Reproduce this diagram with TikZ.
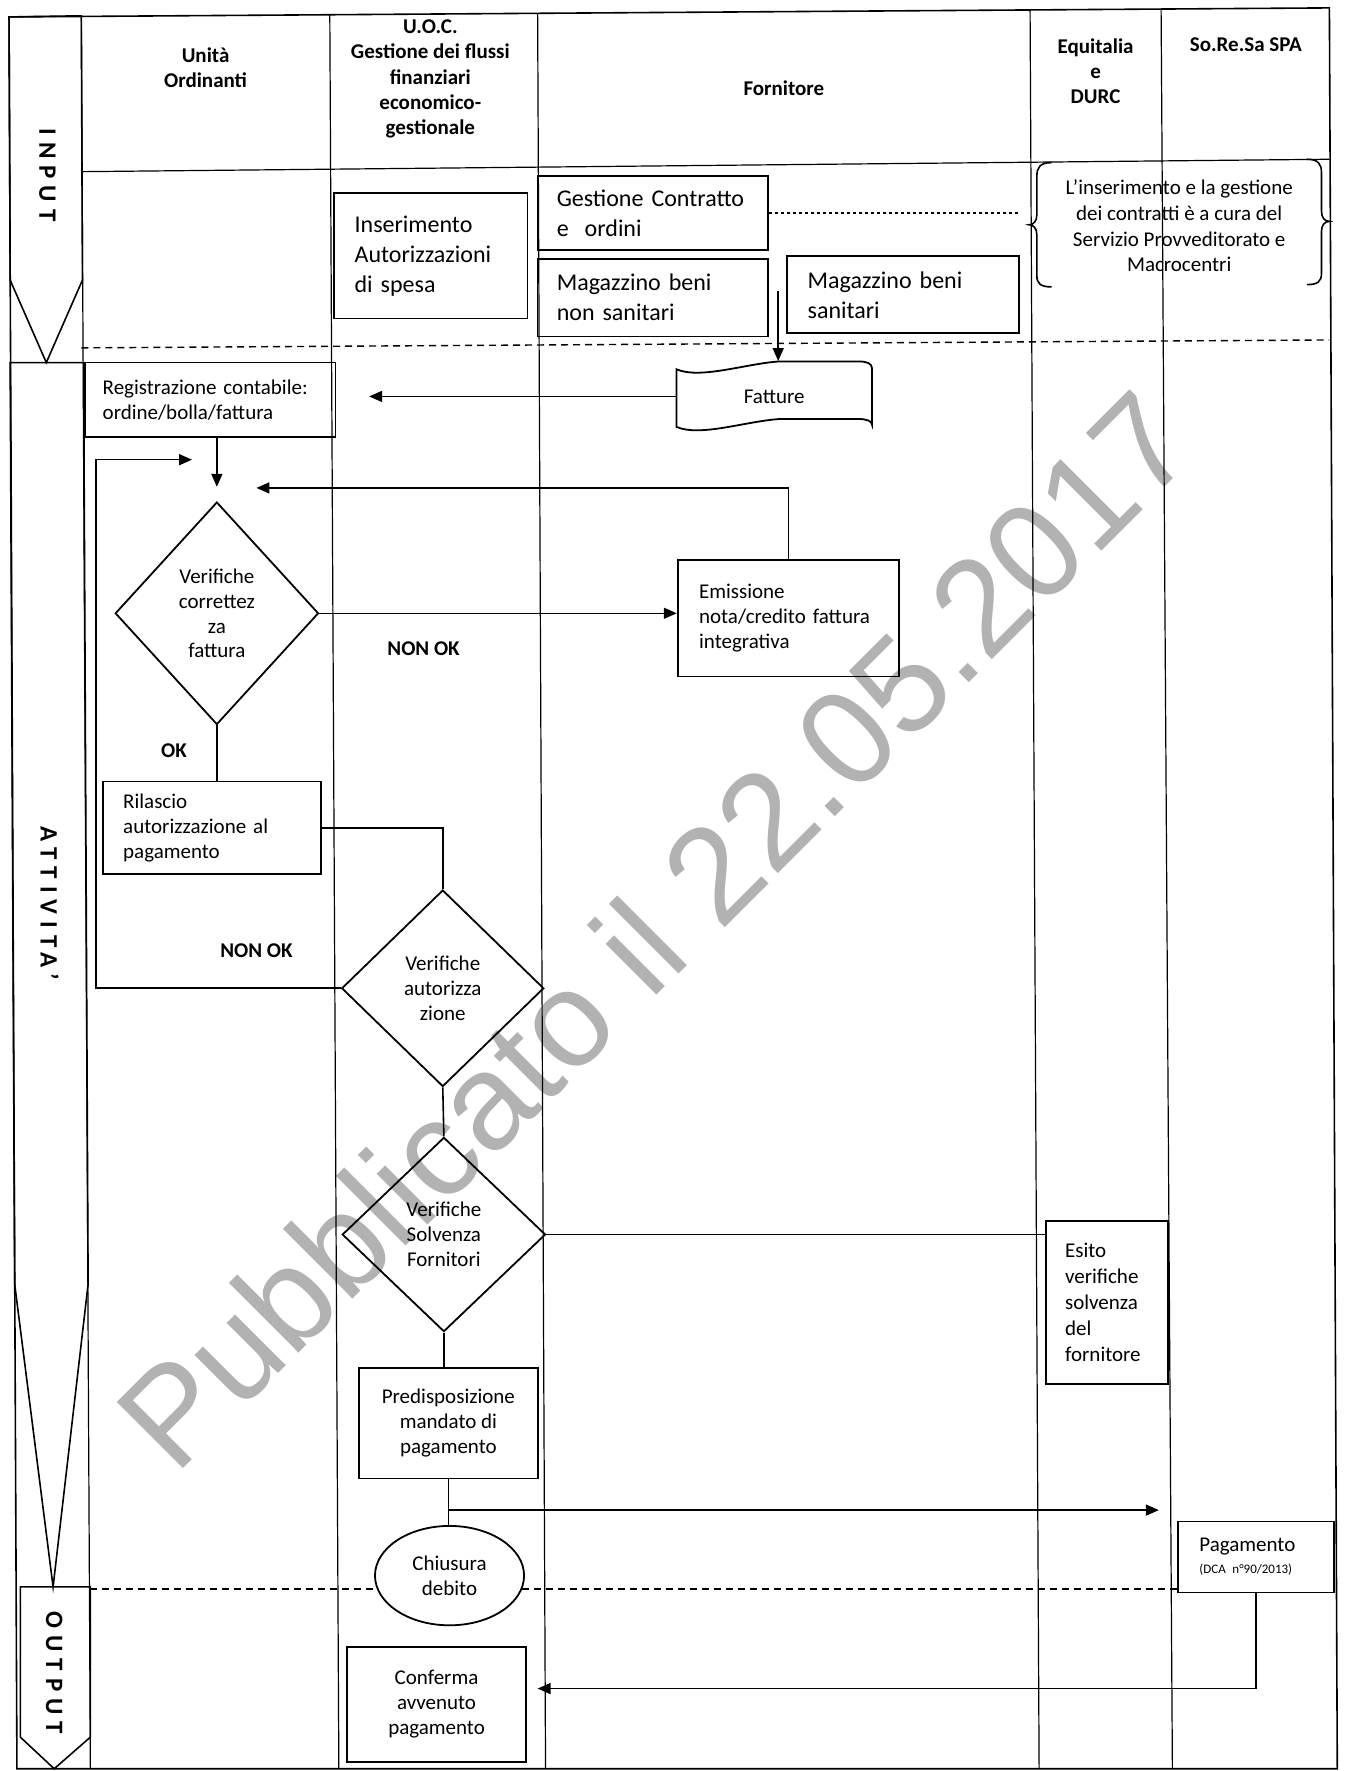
\documentclass[tikz,border=0pt]{standalone}
\usepackage{fontspec}
\setmainfont{Carlito}
\newfontfamily\wmfont{Liberation Sans}
\usetikzlibrary{arrows.meta,shapes.geometric}
\def\dpx{0.565pt}
\begin{document}
\begin{tikzpicture}[x=0.565pt,y=-0.565pt,
  lane/.style={line width=0.6pt},
  frameline/.style={line width=0.8pt},
  conn/.style={line width=0.8pt},
  arr/.style={conn,-{Triangle[length=6.5pt,width=5.5pt]}},
  sepline/.style={line width=0.7pt,dash pattern=on 3.5pt off 2.5pt},
  txt/.style={font=\fontsize{10.5}{12.5}\selectfont},
  bigtxt/.style={font=\fontsize{12}{15}\selectfont},
  hdr/.style={font=\bfseries\fontsize{10.5}{12.7}\selectfont,align=center,inner sep=0pt},
  rbox/.style={draw,line width=0.9pt,inner ysep=0pt},
  lbox/.style={rbox,align=left},
  cbox/.style={rbox,align=center,txt},
  dia/.style={draw,diamond,line width=0.9pt,inner sep=0pt,align=center,txt},
  lbl/.style={font=\bfseries\fontsize{10.5}{12.5}\selectfont,inner sep=0pt},
  vlab/.style={rotate=-90,inner sep=0pt,font=\bfseries\fontsize{12.5}{14}\selectfont\addfontfeature{LetterSpace=28}}
]
\useasboundingbox (0,0) rectangle (1193,1568);

% watermark (behind everything)
\node[rotate=45,text=black!30,inner sep=0pt,font=\wmfont\fontsize{68}{68}\selectfont] (wm) at (579,823) {Pubblicato il 22.05.2017};

% frame and lanes
\draw[frameline] (8,15) -- (1177,7) -- (1184,1566) -- (15,1566) -- cycle;
\draw[lane] (72,14) -- (80,1566);
\draw[lane] (292,13) -- (300,1566);
\draw[lane] (476,12) -- (483,1566);
\draw[lane] (912,9) -- (920,1566);
\draw[lane] (1028,8) -- (1038,1566);
\draw[lane] (72,152) -- (1177,141);
\draw[sepline] (72,308) -- (1177,301);

% phase chevrons
\draw[frameline] (8,15) -- (72,14) -- (73,248) -- (41,321) -- (9,248) -- cycle;
\draw[frameline] (9,321) -- (74,321) -- (78,1137) -- (47,1405) -- (13,1137) -- cycle;
\draw[frameline] (18,1405) -- (80,1405) -- (80,1538) -- (48,1566) -- (18,1538) -- cycle;
\node[vlab] (pin) at (42,155) {INPUT};
\node[vlab] (pat) at (44,800) {ATTIVITA'};
\node[vlab] (pout) at (48,1481) {OUTPUT};

% headers
\node[hdr] (h1) at (182,60) {Unità\\Ordinanti};
\node[hdr] (h2) at (381,70) {U.O.C.\\Gestione dei flussi\\finanziari\\economico-\\gestionale};
\node[hdr] (h3) at (694,78) {Fornitore};
\node[hdr] (h4) at (970,63) {Equitalia\\e\\DURC};
\node[hdr] (h5) at (1103,40) {So.Re.Sa SPA};

% input boxes
\node[lbox,bigtxt,minimum width=171*\dpx,minimum height=111*\dpx,inner xsep=10.17pt,text width=76.3pt] (ins) at (381.5,226.5) {Inserimento\\Autorizzazioni\\di spesa};
\node[lbox,bigtxt,minimum width=204*\dpx,minimum height=65*\dpx,inner xsep=9.6pt,text width=96.1pt] (gc) at (578,188.5) {Gestione Contratto\\e\ \ ordini};
\node[lbox,bigtxt,minimum width=204*\dpx,minimum height=69*\dpx,inner xsep=9.6pt,text width=96.1pt] (mns) at (578,263.5) {Magazzino beni\\non sanitari};
\node[lbox,bigtxt,minimum width=205*\dpx,minimum height=68*\dpx,inner xsep=10.2pt,text width=95.4pt] (ms) at (799.5,261) {Magazzino beni\\sanitari};

% brace note
\node[align=center,inner sep=0pt,font=\fontsize{10.5}{12.8}\selectfont] (note) at (1044,200) {L’inserimento e la gestione\\dei contratti è a cura del\\Servizio Provveditorato e\\Macrocentri};
\draw[conn] (931,144) .. controls (921,144) and (918,148) .. (918,156) -- (918,190) .. controls (918,196) and (915,199) .. (911,199) .. controls (915,199) and (918,202) .. (918,208) -- (918,244) .. controls (918,251) and (921,254) .. (931,254);
\draw[conn] (1157,141) .. controls (1167,141) and (1170,145) .. (1170,153) -- (1170,187) .. controls (1170,193) and (1173,196) .. (1177,196) .. controls (1173,196) and (1170,199) .. (1170,205) -- (1170,242) .. controls (1170,249) and (1167,252) .. (1157,252);
\coordinate (brin) at (902,188.5);
\draw[conn,dash pattern=on 1.5pt off 1.5pt] (gc.east) -- (brin);

% Fatture (punched tape)
\draw[line width=0.9pt] (599,327) .. controls (620,336) and (660,322) .. (690,320) -- (760,320) .. controls (768,320) and (772,322) .. (772,326) -- (772,376) .. controls (772,373) and (768,371) .. (760,371) -- (690,371) .. controls (660,373) and (620,387) .. (599,378) -- cycle;
\node[inner sep=0pt,minimum width=173*\dpx,minimum height=62*\dpx,txt] (fat) at (685.5,351) {Fatture};
\coordinate (magout) at (689,258);
\draw[arr] (magout) -- (magout |- fat.north);

% activity nodes
\node[lbox,txt,minimum width=222*\dpx,minimum height=66*\dpx,inner xsep=9.0pt,text width=107.4pt] (reg) at (186,354) {Registrazione contabile:\\ordine/bolla/fattura};
\draw[arr,shorten >=16.4pt] (fat.west) -- (fat.west -| reg.east);

\node[dia,minimum width=180*\dpx,minimum height=197*\dpx] (d1) at (192,543) {Verifiche\\correttez\\za\\fattura};
\coordinate (d1in) at (192,431);
\draw[arr] (d1in |- reg.south) -- (d1in);

\node[lbox,txt,minimum width=196*\dpx,minimum height=103*\dpx,inner xsep=10.7pt,text width=89.3pt] (emi) at (698,547.5) {Emissione\\nota/credito fattura\\integrativa};
\coordinate (fbtip) at (227,432);
\draw[arr] (emi.north) |- (fbtip);
\draw[arr] (d1.east) -- (d1.east -| emi.west);
\node[lbl] (nok1) at (375,574) {NON OK};
\node[lbl] (ok1) at (154,665) {OK};

\node[lbox,txt,minimum width=193*\dpx,minimum height=82*\dpx,inner xsep=10.2pt,text width=88.6pt] (ril) at (187.5,733) {Rilascio\\autorizzazione al\\pagamento};
\draw[conn] (d1.south) -- (d1.south |- ril.north);

\node[dia,minimum width=179*\dpx,minimum height=174*\dpx] (d2) at (392,875) {Verifiche\\autorizza\\zione};
\draw[conn] (ril.east) -| (d2.north);
\node[lbl] (nok2) at (227,842) {NON OK};
\coordinate (looptop) at (85,407);
\coordinate (looptip) at (170,407);
\draw[arr] (d2.west) -| (looptop) -- (looptip);

\node[dia,minimum width=180*\dpx,minimum height=172*\dpx] (d3) at (393,1093) {Verifiche\\Solvenza\\Fornitori};
\draw[conn] (d2.south) -- (d3.north);

\node[lbox,txt,font=\fontsize{10.5}{13}\selectfont,minimum width=108*\dpx,minimum height=144*\dpx,inner xsep=9.6pt,text width=41.8pt] (esi) at (980,1153) {Esito\\verifiche\\solvenza\\del\\fornitore};
\draw[conn] (d3.east) -- (d3.east -| esi.west);

\node[cbox,minimum width=158*\dpx,minimum height=98*\dpx] (pre) at (397,1260) {Predisposizione\\mandato di\\pagamento};
\draw[conn] (d3.south) -- (d3.south |- pre.north);

\node[lbox,minimum width=138*\dpx,minimum height=63*\dpx,inner xsep=10.7pt,text width=56.6pt] (pag) at (1112,1378.5) {{\fontsize{10.5}{12}\selectfont Pagamento}\\[-1pt]{\fontsize{6.5}{8}\selectfont(DCA~n°90/2013)}};

% separator activity / output (under the ellipse)
\coordinate (sepB) at (80,1407);
\draw[sepline] (sepB) -- (sepB -| pag.west);

\node[draw,ellipse,fill=white,line width=0.9pt,minimum width=132*\dpx,minimum height=88*\dpx,inner sep=0pt,align=center,txt] (chi) at (398,1395) {Chiusura\\debito};
\draw[conn] (pre.south) -- (pre.south |- chi.north);
\coordinate (br1) at (397,1337);
\coordinate (pagin) at (1026,1337);
\draw[arr] (br1) -- (pagin);

\node[cbox,minimum width=159*\dpx,minimum height=102*\dpx] (con) at (386.5,1509) {Conferma\\avvenuto\\pagamento};
\coordinate (conin) at (476,1495);
\draw[arr] (pag.south) |- (conin);

\end{tikzpicture}
\end{document}
